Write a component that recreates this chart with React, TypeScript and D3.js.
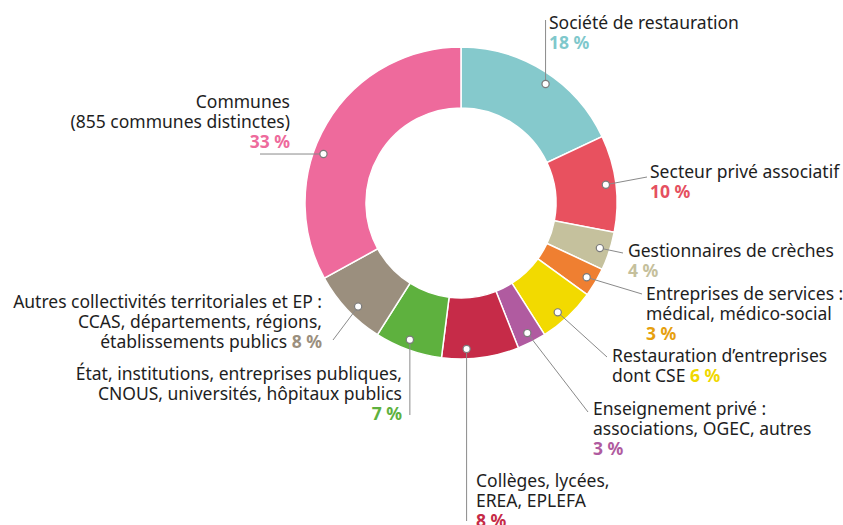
import React from 'react';
import * as d3 from 'd3';

// Share of meals by type of operator (%), clockwise from the top
const categories = [
  'Société de restauration',
  'Secteur privé associatif',
  'Gestionnaires de crèches',
  'Entreprises de services',
  'Restauration d’entreprises',
  'Enseignement privé',
  'Collèges, lycées',
  'État, institutions',
  'Autres collectivités',
  'Communes',
];
const values = [18, 10, 4, 3, 6, 3, 8, 7, 8, 33];

const sliceColors = ['#85c9cc', '#e8515f', '#c5c19d', '#ef7f31', '#f2da00', '#b05ba0', '#c62b48', '#5eb13e', '#9b8f7e', '#ee6a9c'];
const pctColors = ['#7fc8cc', '#e5505f', '#c5c09c', '#e6a00e', '#f0d800', '#b05ba0', '#c62b47', '#5eb13e', '#9b8f7e', '#ee6a9c'];

// label text, one entry per line; the percentage is added at the end
const labelLines = [
  ['Société de restauration'],
  ['Secteur privé associatif'],
  ['Gestionnaires de crèches'],
  ['Entreprises de services :', 'médical, médico-social'],
  ['Restauration d’entreprises', 'dont CSE'],
  ['Enseignement privé :', 'associations, OGEC, autres'],
  ['Collèges, lycées,', 'EREA, EPLEFA'],
  ['État, institutions, entreprises publiques,', 'CNOUS, universités, hôpitaux publics'],
  ['Autres collectivités territoriales et EP :', 'CCAS, départements, régions,', 'établissements publics'],
  ['Communes', '(855 communes distinctes)'],
];

const width = 843;
const height = 525;
const cx = 461;
const cy = 203;
const outerR = 156;
const innerR = 95;
const dotR = 146;
const lineH = 20;

// label layout: text x, anchor, first baseline, percent inline?, leader end, dot angle nudge (deg)
const layout = [
  { x: 549, anchor: 'start', y: 29, inline: false, end: ['dot', 20], nudge: 3 },
  { x: 650, anchor: 'start', y: 178, inline: false, end: [647, 177], nudge: 0 },
  { x: 628, anchor: 'start', y: 257, inline: false, end: [623, 253], nudge: 0 },
  { x: 646, anchor: 'start', y: 300, inline: false, end: [642, 294], nudge: 0 },
  { x: 612, anchor: 'start', y: 362, inline: true, end: [607, 357], nudge: 1.7 },
  { x: 593, anchor: 'start', y: 415, inline: false, end: [588, 412], nudge: 0 },
  { x: 476, anchor: 'start', y: 487, inline: false, end: ['dot', 521], nudge: 5 },
  { x: 402, anchor: 'end', y: 380, inline: false, end: ['dot', 415], nudge: 0.7 },
  { x: 322, anchor: 'end', y: 308, inline: true, end: [333, 340], nudge: -2 },
  { x: 290, anchor: 'end', y: 108, inline: false, end: [260, 'dot'], nudge: -11 },
];

export default function App() {
  const pie = d3.pie<number>().sort(null).value(d => d);
  const arcs = pie(values);
  const arc = d3.arc<d3.PieArcDatum<number>>().innerRadius(innerR).outerRadius(outerR);

  const font = '"Noto Sans", "Open Sans", sans-serif';

  return (
    <svg width={width} height={height} style={{ position: 'absolute', left: 0, top: 0, background: '#fff' }}>
      <g transform={`translate(${cx},${cy})`}>
        {arcs.map((a, i) => (
          <path key={categories[i]} d={arc(a) || ''} fill={sliceColors[i]} stroke="#fff" strokeWidth={1.5} />
        ))}
      </g>
      {arcs.map((a, i) => {
        const L = layout[i];
        const ang = (a.startAngle + a.endAngle) / 2 + (L.nudge * Math.PI) / 180;
        const dx = cx + dotR * Math.sin(ang);
        const dy = cy - dotR * Math.cos(ang);
        const ex = L.end[0] === 'dot' ? dx : (L.end[0] as number);
        const ey = L.end[1] === 'dot' ? dy : (L.end[1] as number);
        const lines = labelLines[i];
        const pct = `${values[i]} %`;
        return (
          <g key={categories[i]}>
            <line x1={dx} y1={dy} x2={ex} y2={ey} stroke="#8a8a8a" strokeWidth={1} />
            <circle cx={dx} cy={dy} r={3.6} fill="#fff" stroke="#7a7a7a" strokeWidth={1.2} />
            <g fontFamily={font} fontSize={17.5} fill="#1e1e1e" textAnchor={L.anchor}>
              {lines.map((t, j) => {
                const last = j === lines.length - 1;
                return (
                  <text key={j} x={L.x} y={L.y + j * lineH}>
                    {t}
                    {last && L.inline ? (
                      <tspan fontWeight={700} fill={pctColors[i]}>{' ' + pct}</tspan>
                    ) : null}
                  </text>
                );
              })}
              {!L.inline ? (
                <text x={L.x} y={L.y + lines.length * lineH} fontWeight={700} fill={pctColors[i]}>
                  {pct}
                </text>
              ) : null}
            </g>
          </g>
        );
      })}
    </svg>
  );
}
